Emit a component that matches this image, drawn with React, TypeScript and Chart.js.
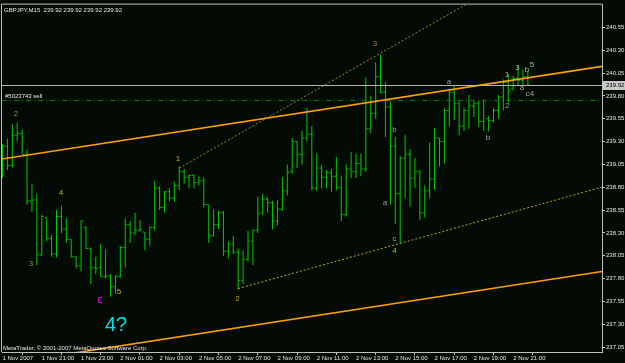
import React, { useEffect, useRef } from "react";
import { Chart, registerables } from "chart.js";

Chart.register(...registerables);

const FONT = "'Liberation Sans', Arial, sans-serif";

const titleText = "GBPJPY,M15  239.92 239.92 239.92 239.92";
const copyrightText = "MetaTrader, \u00a9 2001-2007 MetaQuotes Software Corp.";

const timeLabels = [
  "1 Nov 2007", "1 Nov 21:00", "1 Nov 23:00", "2 Nov 01:00", "2 Nov 03:00",
  "2 Nov 05:00", "2 Nov 07:00", "2 Nov 09:00", "2 Nov 11:00", "2 Nov 13:00",
  "2 Nov 15:00", "2 Nov 17:00", "2 Nov 19:00", "2 Nov 21:00",
];
const timeLabelBars = [0, 8, 16, 24, 32, 40, 48, 56, 64, 72, 80, 88, 96, 104];

const priceTicks = [
  240.55, 240.3, 240.05, 239.8, 239.55, 239.3, 239.05, 238.8,
  238.55, 238.3, 238.05, 237.8, 237.55, 237.3, 237.05,
];

const opens = [
  239.08, 239.25, 239.04, 239.37, 239.39, 239.16, 238.65, 238.66, 238.06, 238.47,
  238.24, 238.07, 238.48, 238.34, 238.23, 238.04, 237.94, 238.36, 238.13, 237.92,
  237.92, 237.82, 237.83, 237.71, 237.82, 238.14, 238.39, 238.30, 238.33, 238.31,
  238.23, 238.36, 238.79, 238.58, 238.75, 238.68, 238.82, 238.97, 238.91, 238.93,
  238.85, 238.87, 238.61, 238.27, 238.39, 238.52, 238.10, 238.18, 238.09, 237.78,
  238.01, 238.21, 238.33, 238.52, 238.67, 238.63, 238.43, 238.56, 238.76, 238.97,
  239.30, 239.16, 239.34, 239.38, 238.79, 239.01, 238.91, 238.96, 238.92, 238.80,
  238.50, 239.00, 238.97, 239.06, 239.00, 239.44, 239.61, 240.01, 239.84, 239.68,
  239.25, 238.73, 239.12, 239.16, 238.90, 238.97, 238.52, 238.76, 238.89, 239.34,
  239.30, 239.64, 239.84, 239.72, 239.47, 239.64, 239.69, 239.72, 239.52, 239.55,
  239.53, 239.64, 239.79, 239.95, 239.88, 239.99, 239.97, 240.01,
];
const highs = [
  239.27, 239.33, 239.49, 239.51, 239.43, 239.21, 238.84, 238.73, 238.50, 238.47,
  238.28, 238.55, 238.60, 238.46, 238.23, 238.04, 238.44, 238.37, 238.14, 238.04,
  238.18, 238.12, 237.85, 237.84, 238.16, 238.46, 238.43, 238.52, 238.44, 238.31,
  238.37, 238.87, 238.81, 238.76, 238.79, 238.86, 239.03, 239.00, 238.94, 238.94,
  238.92, 238.91, 238.61, 238.56, 238.54, 238.54, 238.21, 238.27, 238.13, 238.11,
  238.32, 238.34, 238.70, 238.73, 238.69, 238.65, 238.66, 238.91, 239.05, 239.34,
  239.31, 239.42, 239.67, 239.47, 239.17, 239.05, 238.99, 239.00, 239.13, 238.93,
  239.05, 239.19, 239.17, 239.17, 240.00, 239.80, 240.17, 240.25, 239.95, 239.74,
  239.35, 239.14, 239.37, 239.22, 239.12, 238.99, 238.82, 239.29, 239.45, 239.34,
  239.67, 239.88, 239.92, 239.74, 239.67, 239.81, 239.74, 239.75, 239.76, 239.58,
  239.67, 239.81, 239.98, 240.04, 240.02, 240.13, 240.09, 240.07,
];
const lows = [
  238.90, 238.99, 239.02, 239.30, 239.16, 238.61, 238.53, 237.95, 238.05, 238.21,
  238.04, 238.03, 238.30, 238.19, 238.03, 237.91, 237.88, 238.12, 237.74, 237.85,
  237.82, 237.80, 237.60, 237.63, 237.81, 237.92, 238.19, 238.28, 238.31, 238.11,
  238.16, 238.33, 238.55, 238.52, 238.65, 238.64, 238.77, 238.84, 238.79, 238.79,
  238.82, 238.58, 238.19, 238.26, 238.34, 238.05, 238.02, 238.07, 237.68, 237.74,
  237.99, 237.95, 238.30, 238.50, 238.52, 238.34, 238.38, 238.54, 238.71, 238.95,
  239.01, 239.05, 239.30, 238.77, 238.76, 238.79, 238.79, 238.75, 238.77, 238.43,
  238.48, 238.90, 238.90, 238.92, 238.97, 239.39, 239.55, 239.83, 239.35, 238.61,
  238.40, 238.19, 238.68, 238.59, 238.79, 238.44, 238.47, 238.68, 238.77, 239.03,
  239.06, 239.47, 239.54, 239.37, 239.42, 239.44, 239.57, 239.46, 239.42, 239.41,
  239.51, 239.55, 239.64, 239.73, 239.86, 239.91, 239.92, 239.91,
];
const closes = [
  239.25, 239.04, 239.37, 239.39, 239.16, 238.65, 238.66, 238.06, 238.48, 238.24,
  238.07, 238.48, 238.34, 238.23, 238.04, 237.94, 238.43, 238.13, 237.92, 237.91,
  237.82, 237.83, 237.71, 237.82, 238.14, 238.39, 238.30, 238.33, 238.34, 238.23,
  238.36, 238.79, 238.58, 238.75, 238.68, 238.82, 238.97, 238.91, 238.93, 238.85,
  238.87, 238.61, 238.27, 238.39, 238.52, 238.10, 238.18, 238.09, 237.78, 238.01,
  238.21, 238.33, 238.51, 238.67, 238.63, 238.43, 238.56, 238.76, 238.96, 239.30,
  239.16, 239.34, 239.38, 238.79, 239.01, 238.91, 238.96, 238.92, 238.80, 238.50,
  239.00, 238.97, 239.06, 239.00, 239.44, 239.61, 240.01, 239.84, 239.68, 239.25,
  238.73, 239.12, 239.16, 238.90, 238.97, 238.52, 238.76, 238.89, 239.34, 239.30,
  239.64, 239.84, 239.72, 239.47, 239.64, 239.69, 239.72, 239.52, 239.75, 239.53,
  239.64, 239.79, 239.95, 239.86, 239.99, 239.97, 240.01, 239.92,
];

const bidPrice = 239.92;
const orderPrice = 239.75;
const orderLabel = "#5023743 sell";

// trend lines: [bar1, price1, bar2, price2]
const orangeUpper = [0, 239.11, 100, 239.94];
const orangeLower = [20, 237.03, 120, 237.86];
const dottedLower = [48, 237.69, 100, 238.47];
const dottedUpper = [36, 239.01, 80, 240.36];

const waveTexts = [
  "2", "4", "3", "5", "c", "4?", "1", "2", "3", "b", "a", "c", "4",
  "a", "b", "1", "2", "3", "b", "5", "a", "c4",
];
const waveBars = [
  2.75, 11.92, 5.8, 23.73, 19.86, 23.12, 35.75, 47.86, 75.87, 79.84, 77.9, 79.84, 79.84,
  90.94, 98.88, 102.75, 102.85, 104.9, 106.8, 107.84, 105.8, 107.44,
];
const wavePrices = [
  239.6, 238.735, 237.963, 237.659, 237.561, 237.29, 239.11, 237.577, 240.376, 239.43,
  238.631, 238.24, 238.099, 239.952, 239.343, 240.028, 239.691, 240.104, 240.083,
  240.142, 239.887, 239.825,
];
const waveColors = [
  "#a89018", "#c8b000", "#a89018", "#c8b000", "#ff00ff", "#00e0f0", "#c8b000", "#b8a020",
  "#a08830", "#8fa88f", "#8fa88f", "#8fa88f", "#c8b000", "#8fa88f", "#8fa88f",
  "#90c890", "#8fa88f", "#90c890", "#90c890", "#90c890", "#8fa88f", "#8fa88f",
];
const waveSizes = [8, 8, 8, 8, 11, 20, 8, 8, 8, 8, 8, 8, 8, 8, 8, 8, 8, 8, 8, 8, 8, 8];

const BG = "#040b04";
const BAR = "#00cc00";
const AXIS = "#c0c0c0";
const TEXT = "#e6e6e6";

const mtPlugin = {
  id: "mt",
  beforeDraw(chart: any) {
    const { ctx, width, height } = chart;
    ctx.save();
    ctx.fillStyle = BG;
    ctx.fillRect(0, 0, width, height);
    ctx.restore();
  },
  afterDatasetsDraw(chart: any) {
    const { ctx, chartArea: a } = chart;
    const xs = chart.scales.x;
    const ys = chart.scales.y;
    ctx.save();
    ctx.beginPath();
    ctx.rect(a.left, a.top, a.right - a.left, a.bottom - a.top);
    ctx.clip();

    // open / close ticks
    ctx.strokeStyle = BAR;
    ctx.lineWidth = 1;
    for (let i = 0; i < opens.length; i++) {
      const x = xs.getPixelForValue(i);
      const yo = ys.getPixelForValue(opens[i]);
      const yc = ys.getPixelForValue(closes[i]);
      ctx.beginPath();
      ctx.moveTo(x - 2, yo);
      ctx.lineTo(x - 0.5, yo);
      ctx.moveTo(x + 0.5, yc);
      ctx.lineTo(x + 2, yc);
      ctx.stroke();
    }

    const drawLine = (def: number[], color: string, width: number, dash: number[], both: boolean) => {
      const x1 = xs.getPixelForValue(def[0]);
      const y1 = ys.getPixelForValue(def[1]);
      const x2 = xs.getPixelForValue(def[2]);
      const y2 = ys.getPixelForValue(def[3]);
      const k = (y2 - y1) / (x2 - x1);
      const sx = both ? a.left : x1;
      const ex = a.right;
      ctx.beginPath();
      ctx.setLineDash(dash);
      ctx.strokeStyle = color;
      ctx.lineWidth = width;
      ctx.moveTo(sx, y1 + k * (sx - x1));
      ctx.lineTo(ex, y1 + k * (ex - x1));
      ctx.stroke();
      ctx.setLineDash([]);
    };

    // order line (dash-dot)
    const yOrd = ys.getPixelForValue(orderPrice);
    ctx.beginPath();
    ctx.setLineDash([5, 3, 1, 3]);
    ctx.strokeStyle = "#0a7a0a";
    ctx.lineWidth = 1;
    ctx.moveTo(a.left, Math.round(yOrd) + 0.5);
    ctx.lineTo(a.right, Math.round(yOrd) + 0.5);
    ctx.stroke();
    ctx.setLineDash([]);

    drawLine(dottedUpper, "#9a8a22", 1, [2, 2], false);
    drawLine(dottedLower, "#c0aa10", 1, [2, 2], false);
    drawLine(orangeUpper, "#ffa000", 1.6, [], true);
    drawLine(orangeLower, "#ffa000", 1.6, [], true);

    // bid line
    const yBid = ys.getPixelForValue(bidPrice);
    ctx.beginPath();
    ctx.strokeStyle = "#b4b4b4";
    ctx.lineWidth = 1;
    ctx.moveTo(a.left, Math.round(yBid) + 0.5);
    ctx.lineTo(a.right, Math.round(yBid) + 0.5);
    ctx.stroke();

    // wave labels
    ctx.textAlign = "center";
    ctx.textBaseline = "middle";
    for (let i = 0; i < waveTexts.length; i++) {
      ctx.fillStyle = waveColors[i];
      ctx.font = `${waveSizes[i]}px ${FONT}`;
      ctx.fillText(waveTexts[i], xs.getPixelForValue(waveBars[i]), ys.getPixelForValue(wavePrices[i]));
    }

    // texts
    ctx.textAlign = "left";
    ctx.textBaseline = "alphabetic";
    ctx.fillStyle = TEXT;
    ctx.font = `6px ${FONT}`;
    ctx.fillText(orderLabel, a.left + 3, yOrd - 2.5);
    ctx.fillText(titleText, a.left + 2, a.top + 7);
    ctx.fillText(copyrightText, a.left + 1, a.bottom - 2.5);
    ctx.restore();

    // frame (left / top)
    ctx.save();
    ctx.strokeStyle = AXIS;
    ctx.lineWidth = 1;
    ctx.beginPath();
    ctx.moveTo(a.left - 0.5, a.top - 0.5);
    ctx.lineTo(a.left - 0.5, a.bottom);
    ctx.moveTo(a.left - 0.5, a.top - 0.5);
    ctx.lineTo(a.right, a.top - 0.5);
    ctx.stroke();

    // bid price label box
    ctx.fillStyle = "#c8c8c8";
    ctx.fillRect(a.right + 1, Math.round(yBid) - 4, 22, 9);
    ctx.fillStyle = "#000000";
    ctx.font = `6px ${FONT}`;
    ctx.textBaseline = "middle";
    ctx.textAlign = "left";
    ctx.fillText(bidPrice.toFixed(2), a.right + 4, Math.round(yBid) + 0.5);
    ctx.restore();
  },
};

export default function App() {
  const ref = useRef<HTMLCanvasElement | null>(null);
  useEffect(() => {
    document.body.style.margin = "0";
    document.body.style.background = BG;
    const canvas = ref.current;
    if (!canvas) return;
    const labelMap: Record<number, string> = {};
    timeLabelBars.forEach((b, i) => (labelMap[b] = timeLabels[i]));
    const chart = new Chart(canvas, {
      type: "bar",
      data: {
        datasets: [
          {
            data: highs.map((h, i) => ({ x: i, y: [lows[i], h] })) as any,
            backgroundColor: BAR,
            borderWidth: 0,
            barThickness: 1,
            inflateAmount: 0,
          } as any,
        ],
      },
      options: {
        animation: false,
        responsive: false,
        devicePixelRatio: 1,
        layout: { padding: { left: 2, top: 2, right: 0, bottom: 0 } },
        plugins: { legend: { display: false }, tooltip: { enabled: false } },
        scales: {
          x: {
            type: "linear",
            position: "bottom",
            min: -0.1,
            max: 122.1,
            offset: false,
            grid: { display: true, drawOnChartArea: false, drawTicks: true, tickLength: 3, color: AXIS },
            border: { display: true, color: AXIS },
            ticks: {
              autoSkip: false,
              maxRotation: 0,
              minRotation: 0,
              align: "start",
              padding: 0,
              color: TEXT,
              font: { family: FONT, size: 6 },
              callback: (v: any) => labelMap[Number(v)] ?? "",
            },
            afterBuildTicks: (s: any) => {
              s.ticks = timeLabelBars.map((v) => ({ value: v }));
            },
            afterFit: (s: any) => {
              s.height = 11;
            },
          },
          y: {
            type: "linear",
            position: "right",
            min: 236.996,
            max: 240.8,
            grid: { display: true, drawOnChartArea: false, drawTicks: true, tickLength: 3, color: AXIS },
            border: { display: true, color: AXIS },
            ticks: {
              padding: 1,
              color: TEXT,
              font: { family: FONT, size: 6 },
              callback: (v: any) => Number(v).toFixed(2),
            },
            afterBuildTicks: (s: any) => {
              s.ticks = priceTicks.map((v) => ({ value: v }));
            },
            afterFit: (s: any) => {
              s.width = 23;
            },
          },
        },
      } as any,
      plugins: [mtPlugin],
    });
    return () => chart.destroy();
  }, []);
  return (
    <div style={{ width: 625, height: 363, background: BG }}>
      <canvas ref={ref} width={625} height={363} style={{ display: "block", width: 625, height: 363 }} />
    </div>
  );
}
